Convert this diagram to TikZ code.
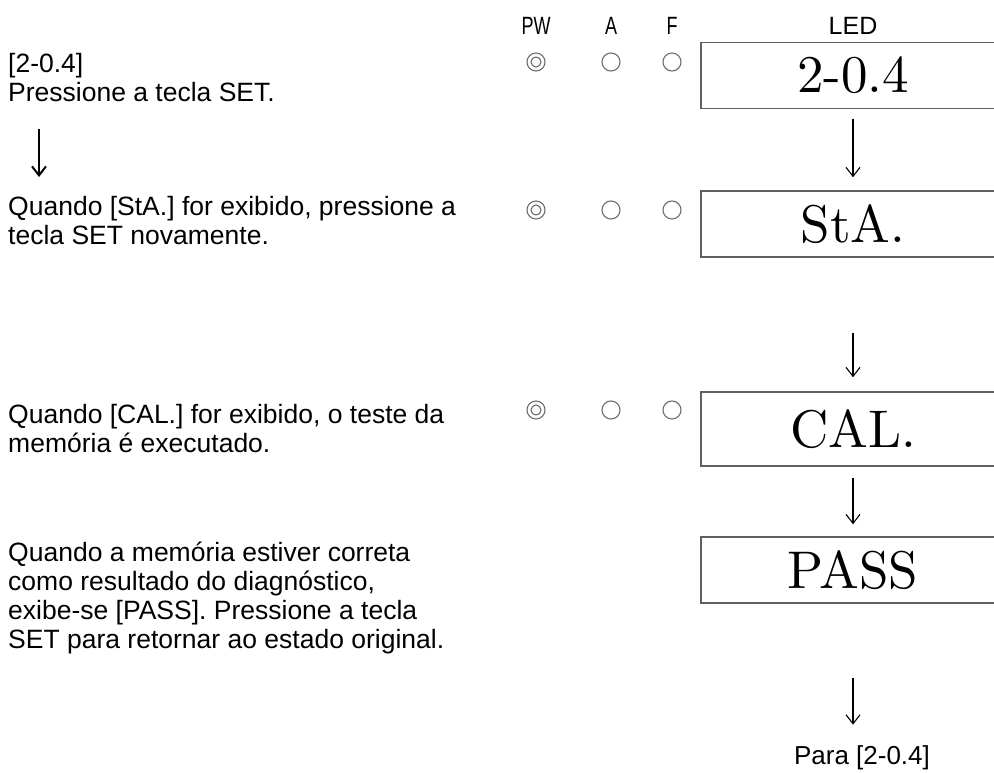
\documentclass[tikz,border=0pt]{standalone}
\usepackage{fontspec}
\newfontfamily\sansfont{Liberation Sans}
\newfontfamily\gothicfont[FakeStretch=0.72]{Liberation Sans}
\newfontfamily\ledfont{lmroman10-regular}[Extension=.otf]
\usepackage{tikz}
\usetikzlibrary{arrows.meta}
\definecolor{frame}{RGB}{96, 96, 96}
\definecolor{lampgray}{RGB}{110, 110, 110}

\begin{document}
\begin{tikzpicture}[
			x=1pt, y=-1pt,
			led/.style={rectangle, draw=frame, line width=1.5pt, minimum width=304pt,
				minimum height=66pt, inner sep=0pt, font=\ledfont\fontsize{53}{53}\selectfont},
			note/.style={anchor=north west, align=left, inner sep=0pt,
				font=\sansfont\fontsize{26.5}{29}\selectfont},
			head/.style={inner sep=0pt, font=\gothicfont\fontsize{25}{25}\selectfont},
			lamp/.style={circle, draw=lampgray, line width=1.1pt, minimum size=18pt, inner sep=0pt},
			pw/.style={lamp, path picture={\draw[lampgray, line width=1.1pt] (path picture bounding box.center) circle (5pt);}},
			line/.style={-{Straight Barb[length=9pt, width=14pt]}, line width=1.1pt},
			bigline/.style={-{Straight Barb[length=9pt, width=14pt]}, line width=2pt}
			]
			\useasboundingbox (0,0) rectangle (994,773);
			\clip (0,0) rectangle (994,773);

			% column heads
			\node[head] (pwhead) at (536,26) {PW};
			\node[head] (ahead)  at (611,26) {A};
			\node[head] (fhead)  at (672,26) {F};
			\node[inner sep=0pt, font=\sansfont\fontsize{25}{25}\selectfont] (ledhead) at (853,26) {LED};

			% lamps
			\foreach \r/\y in {1/62, 2/210, 3/410} {
				\node[pw]   (pw\r) at (536,\y) {};
				\node[lamp] (a\r)  at (611,\y) {};
				\node[lamp] (f\r)  at (672,\y) {};
			}

			% display
			\node[led] (d1) at (853,75.5) {2-0.4};
			\node[led] (d2) at (853,224) {StA.};
			\node[led, minimum height=74pt] (d3) at (853,429) {CAL.};
			\node[led] (d4) at (853,570) {PASS};
			\node[inner sep=0pt, font=\sansfont\fontsize{26}{26}\selectfont] (back) at (862,758) {Para [2-0.4]};

			% steps
			\node[note] (s1) at (8,53)  {[2-0.4]\\Pressione a tecla SET.};
			\node[note] (s2) at (8,196) {Quando [StA.] for exibido, pressione a\\tecla SET novamente.};
			\node[note] (s3) at (8,404) {Quando [CAL.] for exibido, o teste da\\memória é executado.};
			\node[note] (s4) at (8,542) {Quando a memória estiver correta\\como resultado do diagnóstico,\\exibe-se [PASS]. Pressione a tecla\\SET para retornar ao estado original.};

			\draw[bigline, shorten <=27pt, shorten >=19pt] ([xshift=31pt]s1.south west) -- ([xshift=31pt]s2.north west);
			\draw[line, shorten <=10pt, shorten >=13pt] (d1) -- (d2);
			\draw[line, shorten <=75pt, shorten >=14pt] (d2) -- (d3);
			\draw[line, shorten <=11pt, shorten >=12pt] (d3) -- (d4);
			\draw[line, shorten <=74pt, shorten >=21pt] (d4.south) -- (d4.south |- back.north);
		\end{tikzpicture}
\end{document}
